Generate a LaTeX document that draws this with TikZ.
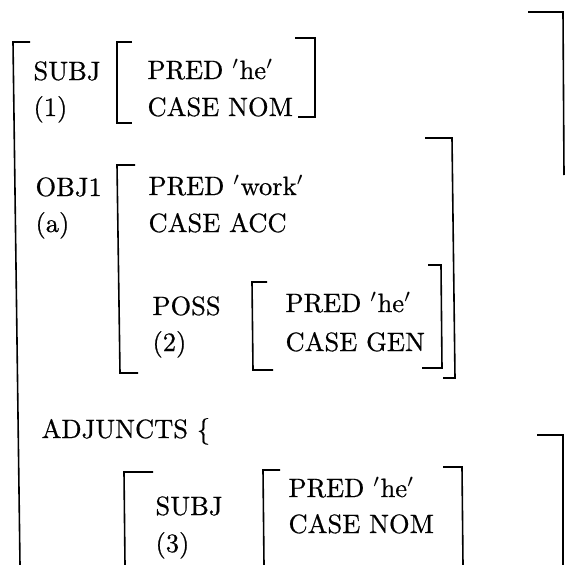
\documentclass[tikz,border=0pt]{standalone}
\usepackage{fontspec}
\setmainfont{Latin Modern Roman}[FakeBold=0.6]
\begin{document}
\begin{tikzpicture}[x=1pt, y=-1pt,
  lbl/.style={anchor=base west, inner sep=0pt, font=\normalsize, scale=2.65},
  brk/.style={line width=1.6pt, line join=miter}]
\useasboundingbox (0,0) rectangle (565,565);

% attribute names and values
\node[lbl] (subjA) at (33,80)  {SUBJ};
\node[lbl] (idA)   at (33,116) {(1)};
\node[lbl] (predA) at (147,79) {PRED $'$he$'$};
\node[lbl] (caseA) at (147,116) {CASE NOM};

\node[lbl] (objB)  at (35,196) {OBJ1};
\node[lbl] (idB)   at (35,232) {(a)};
\node[lbl] (predB) at (148,195) {PRED $'$work$'$};
\node[lbl] (caseB) at (148,232) {CASE ACC};

\node[lbl] (possC) at (152,315) {POSS};
\node[lbl] (idC)   at (152,351) {(2)};
\node[lbl] (predC) at (285,312) {PRED $'$he$'$};
\node[lbl] (caseC) at (285,351) {CASE GEN};

\node[lbl] (adj)   at (41,438) {ADJUNCTS \{};

\node[lbl] (subjD) at (155,515) {SUBJ};
\node[lbl] (idD)   at (155,552) {(3)};
\node[lbl] (predD) at (288,497) {PRED $'$he$'$};
\node[lbl] (caseD) at (288,533) {CASE NOM};

% outer f-structure brackets
\draw[brk] (30,42) -- (13,42) -- (20,565);
\draw[brk] (528,12) -- (563,12) -- (564,175);
\draw[brk] (537,435) -- (563,435) -- (563,565);

% SUBJ value
\draw[brk] (132,42) -- (117,42) -- (117,123) -- (132,123);
\draw[brk] (295,38) -- (315,38) -- (315,117) -- (298,117);

% OBJ1 value
\draw[brk] (135,165) -- (117,165) -- (120,373) -- (138,373);
\draw[brk] (425,138) -- (452,138) -- (455,378) -- (443,378);

% POSS value
\draw[brk] (267,282) -- (252,282) -- (253,370) -- (273,370);
\draw[brk] (428,265) -- (441,265) -- (442,368) -- (422,368);

% adjunct member and its SUBJ value
\draw[brk] (153,472) -- (124,472) -- (125,565);
\draw[brk] (280,470) -- (263,470) -- (264,565);
\draw[brk] (443,467) -- (462,467) -- (463,565);
\end{tikzpicture}
\end{document}
